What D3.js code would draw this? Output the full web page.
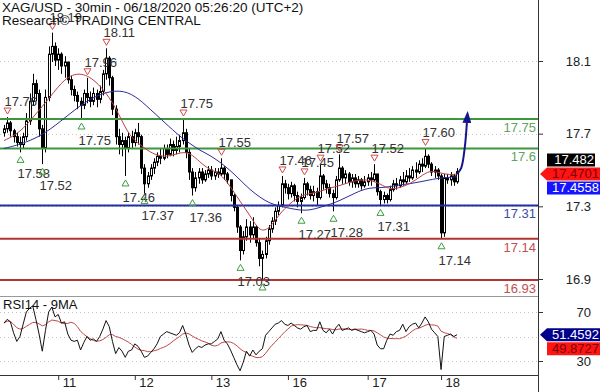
<!DOCTYPE html>
<html>
<head>
<meta charset="utf-8">
<script src="https://cdn.jsdelivr.net/npm/d3@7"></script>
<style>
body { margin: 0; background: #fff; }
text { font-family: "Liberation Sans", Arial, sans-serif; }
</style>
</head>
<body>
<svg id="chart" width="600" height="392"></svg>
<script>
// XAG/USD bars (one per hour), open = previous close
var firstOpen = 17.68;
var closes = [
  17.70, 17.73, 17.69, 17.66, 17.63, 17.62, 17.66, 17.74, 17.84, 17.93,
  17.88, 17.70, 17.60, 17.86, 18.08, 18.12, 18.05, 18.08, 18.02, 18.04,
  17.95, 17.90, 17.87, 17.84, 17.82, 17.88, 17.86, 17.84, 17.88, 17.85,
  17.89, 17.98, 18.06, 17.96, 17.80, 17.66, 17.62, 17.64, 17.60, 17.66,
  17.63, 17.68, 17.66, 17.50, 17.42, 17.46, 17.50, 17.53, 17.56, 17.55,
  17.60, 17.57, 17.62, 17.59, 17.61, 17.64, 17.68, 17.58, 17.48, 17.40,
  17.45, 17.48, 17.44, 17.47, 17.49, 17.46, 17.48, 17.47, 17.50, 17.47,
  17.44, 17.36, 17.30, 17.20, 17.08, 17.15, 17.20, 17.16, 17.20, 17.12,
  17.04, 17.06, 17.13, 17.19, 17.23, 17.28, 17.31, 17.42, 17.40, 17.37,
  17.41, 17.36, 17.33, 17.35, 17.42, 17.39, 17.36, 17.38, 17.35, 17.46,
  17.42, 17.40, 17.37, 17.35, 17.44, 17.50, 17.45, 17.47, 17.43, 17.45,
  17.42, 17.44, 17.41, 17.43, 17.45, 17.44, 17.47, 17.38, 17.34, 17.36,
  17.34, 17.39, 17.42, 17.41, 17.44, 17.43, 17.46, 17.45, 17.49, 17.48,
  17.52, 17.51, 17.56, 17.52, 17.48, 17.49, 17.46, 17.17, 17.45, 17.44,
  17.46, 17.43, 17.482
];
var highs = [
  17.72, 17.76, 17.74, 17.70, 17.68, 17.66, 17.68, 17.78, 17.88, 17.98,
  17.95, 17.90, 17.72, 17.90, 18.12, 18.19, 18.14, 18.11, 18.09, 18.07,
  18.04, 17.97, 17.92, 17.89, 17.86, 17.90, 17.96, 17.89, 17.91, 17.90,
  17.92, 18.00, 18.11, 18.07, 17.97, 17.82, 17.70, 17.68, 17.66, 17.68,
  17.69, 17.70, 17.73, 17.67, 17.52, 17.48, 17.52, 17.55, 17.58, 17.60,
  17.62, 17.62, 17.65, 17.64, 17.66, 17.67, 17.75, 17.70, 17.60, 17.50,
  17.48, 17.50, 17.50, 17.49, 17.51, 17.51, 17.50, 17.50, 17.55, 17.51,
  17.48, 17.44, 17.37, 17.31, 17.21, 17.18, 17.24, 17.23, 17.25, 17.21,
  17.14, 17.08, 17.15, 17.21, 17.25, 17.30, 17.33, 17.46, 17.44, 17.42,
  17.43, 17.42, 17.38, 17.37, 17.45, 17.43, 17.41, 17.41, 17.40, 17.52,
  17.47, 17.44, 17.42, 17.39, 17.46, 17.57, 17.51, 17.49, 17.48, 17.47,
  17.47, 17.46, 17.45, 17.46, 17.47, 17.48, 17.52, 17.47, 17.39, 17.38,
  17.37, 17.41, 17.44, 17.45, 17.46, 17.48, 17.49, 17.50, 17.51, 17.53,
  17.54, 17.55, 17.60, 17.57, 17.53, 17.51, 17.50, 17.47, 17.47, 17.47,
  17.48, 17.47, 17.50
];
var lows = [
  17.66, 17.68, 17.66, 17.63, 17.61, 17.58, 17.60, 17.64, 17.72, 17.82,
  17.84, 17.66, 17.52, 17.58, 17.84, 18.04, 18.02, 18.00, 17.98, 17.96,
  17.93, 17.87, 17.84, 17.80, 17.75, 17.80, 17.83, 17.81, 17.82, 17.81,
  17.83, 17.87, 17.95, 17.92, 17.77, 17.62, 17.57, 17.56, 17.46, 17.58,
  17.60, 17.61, 17.62, 17.47, 17.37, 17.40, 17.44, 17.47, 17.51, 17.52,
  17.54, 17.55, 17.56, 17.56, 17.57, 17.58, 17.62, 17.55, 17.44, 17.36,
  17.38, 17.42, 17.42, 17.43, 17.45, 17.44, 17.44, 17.45, 17.46, 17.44,
  17.42, 17.33, 17.28, 17.17, 17.03, 17.06, 17.13, 17.12, 17.14, 17.10,
  17.00, 16.93, 17.04, 17.11, 17.17, 17.21, 17.26, 17.30, 17.37, 17.34,
  17.35, 17.33, 17.30, 17.27, 17.34, 17.36, 17.34, 17.33, 17.31, 17.34,
  17.39, 17.37, 17.35, 17.28, 17.34, 17.43, 17.42, 17.42, 17.41, 17.40,
  17.40, 17.40, 17.39, 17.40, 17.41, 17.41, 17.43, 17.36, 17.31, 17.32,
  17.32, 17.33, 17.38, 17.39, 17.40, 17.41, 17.42, 17.43, 17.44, 17.45,
  17.47, 17.48, 17.50, 17.50, 17.46, 17.45, 17.44, 17.14, 17.15, 17.42,
  17.41, 17.41, 17.42
];
// RSI(14) read per bar
var rsi = [
  61, 64, 62, 53, 46, 50, 60, 70, 73, 75,
  64, 52, 38, 55, 70, 74, 66, 68, 61, 62,
  52, 47, 46, 47, 39, 45, 50, 47, 48, 46,
  50, 56, 63, 58, 46, 36, 41, 38, 33, 38,
  39, 44, 42, 38, 33, 34, 37, 40, 44, 50,
  52, 54, 53, 52, 51, 53, 59, 52, 43, 37,
  40, 42, 41, 43, 44, 44, 46, 48, 54, 47,
  44, 39, 33, 27, 22, 29, 38, 34, 39, 35,
  38, 40, 51, 54, 57, 60, 61, 63, 60, 59,
  61, 59, 57, 56, 58, 59, 54, 55, 55, 62,
  55, 53, 56, 52, 57, 60, 55, 56, 57, 55,
  56, 55, 54, 53, 54, 55, 52, 43, 40, 40,
  47, 52, 51, 54, 55, 60, 54, 58, 60, 61,
  57, 61, 66, 62, 56, 53, 50, 23, 50, 51,
  52, 50, 51.46
];
// moving averages: [bar, price]
var redMA = [[0,17.64],[5,17.68],[9.7,17.77],[14.4,17.86],[19.1,17.96],[23.8,17.99],[28.5,17.95],
  [33.2,17.86],[36.4,17.76],[39.5,17.66],[42.6,17.62],[45.8,17.58],[48.9,17.56],[52,17.56],
  [55.2,17.58],[58.3,17.58],[61.4,17.53],[64.6,17.49],[67.7,17.475],[70.8,17.41],[74,17.33],
  [77.1,17.26],[80.3,17.17],[83.4,17.195],[86.5,17.27],[89.7,17.32],[92.8,17.36],[95.9,17.37],
  [99.1,17.38],[102.2,17.40],[105.3,17.41],[108.5,17.43],[111.6,17.44],[114.7,17.44],
  [117.9,17.42],[121,17.39],[124.1,17.40],[127.3,17.42],[130.4,17.455],[133.5,17.49],
  [136.7,17.475],[139.8,17.465],[142,17.4701]];
var blueMA = [[0,17.60],[5,17.62],[11.3,17.66],[17.6,17.735],[23.8,17.82],[30.1,17.88],[36.4,17.90],
  [41.1,17.87],[45.8,17.80],[50.5,17.73],[55.2,17.66],[58.3,17.625],[61.4,17.59],[64.6,17.565],
  [67.7,17.53],[70.8,17.49],[74,17.44],[77.1,17.39],[80.3,17.35],[83.4,17.32],[86.5,17.305],
  [89.7,17.295],[92.8,17.285],[95.9,17.285],[99.1,17.30],[102.2,17.315],[105.3,17.335],
  [108.5,17.36],[111.6,17.385],[114.7,17.40],[117.9,17.40],[121,17.405],[124.1,17.415],
  [127.3,17.42],[130.4,17.43],[133.5,17.44],[136.7,17.45],[142,17.4558]];
var forecast = [[142,17.47],[143.3,17.50],[144.4,17.60],[145.1,17.73]];

var highMarks = [1, 15, 26, 32, 56, 68, 87, 94, 99, 105, 116, 132];
var lowMarks = [5, 12, 24, 38, 44, 59, 74, 81, 93, 103, 118, 137];

var levelValues = [17.75, 17.6, 17.31, 17.14, 16.93];
var levelLabels = ["17.75", "17.6", "17.31", "17.14", "16.93"];
var priceTicks = [16.9, 17.3, 17.7, 18.1];
var rsiTicks = [30, 70];
var rsiGrid = [30, 50, 70];
var dayTicks = [17, 41, 65, 89, 114, 137];
var dayLabels = ["11", "12", "13", "16", "17", "18"];
var lastClose = 17.482, lastRed = 17.4701, lastBlue = 17.4558;
var lastRsi = 51.4592, lastRsiMA = 49.8727;

var svg = d3.select("#chart");
var n = closes.length;
var x = d3.scaleLinear().domain([0, n - 1]).range([4, 457]);
var y = d3.scaleLinear().domain([16.93, 17.75]).range([280, 119]);
var yTicks = d3.scaleLinear().domain([16.9, 18.1]).range([279, 61]);
var yR = d3.scaleLinear().domain([30, 70]).range([361, 312]);

var bars = closes.map(function(c, i) {
  var o = i === 0 ? firstOpen : closes[i - 1];
  return { i: i, o: o, c: c, h: Math.max(highs[i], o, c), l: Math.min(lows[i], o, c) };
});
var rsiMA = rsi.map(function(v, i) {
  return d3.mean(rsi.slice(Math.max(0, i - 8), i + 1));
});

var defs = svg.append("defs");
defs.append("clipPath").attr("id", "clipP").append("rect").attr("x", 0).attr("y", 0).attr("width", 538).attr("height", 296);
defs.append("clipPath").attr("id", "clipR").append("rect").attr("x", 0).attr("y", 297).attr("width", 538).attr("height", 78);
defs.append("marker").attr("id", "head").attr("viewBox", "0 0 12 9").attr("refX", 0).attr("refY", 4.5)
  .attr("markerWidth", 6).attr("markerHeight", 4.5).attr("orient", "auto")
  .append("path").attr("d", "M0,0L12,4.5L0,9z").attr("fill", "#16168c");

var pricePanel = svg.append("g").attr("clip-path", "url(#clipP)");
var rsiPanel = svg.append("g").attr("clip-path", "url(#clipR)");

// grid
pricePanel.selectAll(".grid").data(priceTicks).enter().append("line")
  .attr("x1", 0).attr("x2", 538)
  .attr("y1", function(d) { return Math.round(yTicks(d)) + 0.5; })
  .attr("y2", function(d) { return Math.round(yTicks(d)) + 0.5; })
  .attr("stroke", "#c4c4c4").attr("stroke-dasharray", "1,3");
rsiPanel.selectAll(".grid").data(rsiGrid).enter().append("line")
  .attr("x1", 0).attr("x2", 538)
  .attr("y1", function(d) { return Math.round(yR(d)) + 0.5; })
  .attr("y2", function(d) { return Math.round(yR(d)) + 0.5; })
  .attr("stroke", "#c4c4c4").attr("stroke-dasharray", "1,3");

// candles
var px = function(i) { return Math.round(x(i)); };
var candle = pricePanel.selectAll(".bar").data(bars).enter().append("g");
candle.append("line")
  .attr("x1", function(d) { return px(d.i) + 0.5; })
  .attr("x2", function(d) { return px(d.i) + 0.5; })
  .attr("y1", function(d) { return y(d.h); })
  .attr("y2", function(d) { return y(d.l); })
  .attr("stroke", "#000").attr("stroke-width", 1);
candle.append("rect")
  .attr("x", function(d) { return px(d.i) - 0.5; })
  .attr("width", 2)
  .attr("y", function(d) { return y(Math.max(d.o, d.c)); })
  .attr("height", function(d) { return Math.max(0.5, Math.abs(y(d.o) - y(d.c))); })
  .attr("fill", function(d) { return d.c >= d.o ? "#fff" : "#000"; })
  .attr("stroke", "#000").attr("stroke-width", 1);

// support / resistance levels
var levelColor = ["#3c963c", "#3c963c", "#1f2ea0", "#b23434", "#b23434"];
var labelColor = ["#62a462", "#62a462", "#3e4aa4", "#c05050", "#c05050"];
pricePanel.selectAll(".lvl").data(levelValues).enter().append("line")
  .attr("x1", 0).attr("x2", 538)
  .attr("y1", function(d) { return y(d); }).attr("y2", function(d) { return y(d); })
  .attr("stroke", function(d, k) { return levelColor[k]; }).attr("stroke-width", 2);
pricePanel.selectAll(".lvlText").data(levelValues).enter().append("text")
  .attr("x", 536).attr("y", function(d) { return y(d) + 13; })
  .attr("text-anchor", "end").attr("font-size", 13)
  .attr("fill", function(d, k) { return labelColor[k]; })
  .text(function(d, k) { return levelLabels[k]; });

// moving averages
var maLine = d3.line().x(function(d) { return x(d[0]); }).y(function(d) { return y(d[1]); }).curve(d3.curveBasis);
pricePanel.append("path").attr("d", maLine(blueMA)).attr("fill", "none").attr("stroke", "#2b2b9c").attr("stroke-width", 1);
pricePanel.append("path").attr("d", maLine(redMA)).attr("fill", "none").attr("stroke", "#b84040").attr("stroke-width", 1);

// swing markers
var fmt = d3.format(".2f");
highMarks.forEach(function(i) {
  var cx = px(i) + 0.5, cy = y(bars[i].h) - 6;
  pricePanel.append("path")
    .attr("d", "M" + (cx - 3.5) + "," + (cy - 3) + "L" + (cx + 3.5) + "," + (cy - 3) + "L" + cx + "," + (cy + 3) + "Z")
    .attr("fill", "none").attr("stroke", "#d04a4a");
  pricePanel.append("text").attr("x", Math.max(2, cx - 3)).attr("y", y(bars[i].h) - 11)
    .attr("font-size", 13).attr("fill", "#333").text(fmt(bars[i].h));
});
lowMarks.forEach(function(i) {
  var cx = px(i) + 0.5, cy = y(bars[i].l) + 7;
  pricePanel.append("path")
    .attr("d", "M" + (cx - 3.5) + "," + (cy + 3) + "L" + (cx + 3.5) + "," + (cy + 3) + "L" + cx + "," + (cy - 3) + "Z")
    .attr("fill", "none").attr("stroke", "#3f9c3f");
  pricePanel.append("text").attr("x", Math.max(2, cx - 3)).attr("y", y(bars[i].l) + 26)
    .attr("font-size", 13).attr("fill", "#333").text(fmt(bars[i].l));
});

// forecast arrow
pricePanel.append("path")
  .attr("d", d3.line().x(function(d) { return x(d[0]); }).y(function(d) { return y(d[1]); }).curve(d3.curveCatmullRom)(forecast))
  .attr("fill", "none").attr("stroke", "#16168c").attr("stroke-width", 2).attr("marker-end", "url(#head)");

// RSI
var rsiLine = d3.line().x(function(d, i) { return x(i); }).y(function(d) { return yR(d); });
rsiPanel.append("path").attr("d", rsiLine(rsiMA)).attr("fill", "none").attr("stroke", "#c04848").attr("stroke-width", 1);
rsiPanel.append("path").attr("d", rsiLine(rsi)).attr("fill", "none").attr("stroke", "#111").attr("stroke-width", 1);

// frame
svg.append("line").attr("x1", 0).attr("x2", 538).attr("y1", 296.5).attr("y2", 296.5).attr("stroke", "#999");
svg.append("line").attr("x1", 0).attr("x2", 538).attr("y1", 375.5).attr("y2", 375.5).attr("stroke", "#333");
svg.append("line").attr("x1", 538.5).attr("x2", 538.5).attr("y1", 0).attr("y2", 392).attr("stroke", "#333");

// axes
var gy = svg.append("g").attr("transform", "translate(538,0)")
  .call(d3.axisRight(yTicks).tickValues(priceTicks).tickSize(5).tickFormat(d3.format(".1f")));
var gr = svg.append("g").attr("transform", "translate(538,0)")
  .call(d3.axisRight(yR).tickValues(rsiTicks).tickSize(5).tickFormat(d3.format("d")));
[gy, gr].forEach(function(g) {
  g.select(".domain").remove();
  g.selectAll("line").attr("stroke", "#333");
  g.selectAll("text").attr("x", 53).attr("text-anchor", "end").attr("font-size", 13).attr("fill", "#222")
    .attr("font-family", "Liberation Sans, Arial, sans-serif");
});
var gx = svg.append("g").attr("transform", "translate(0,375)")
  .call(d3.axisBottom(x).tickValues(dayTicks).tickSize(5).tickFormat(function(d, k) { return dayLabels[k]; }));
gx.select(".domain").remove();
gx.selectAll("line").attr("stroke", "#333");
gx.selectAll("text").attr("x", 4).attr("y", 3).attr("text-anchor", "start").attr("font-size", 13).attr("fill", "#222")
  .attr("font-family", "Liberation Sans, Arial, sans-serif");

// last value flags
function flag(cy, value, bg, fg, arrow, x0, x1) {
  var h = 6.5;
  var d = arrow
    ? "M540," + cy + "L547," + (cy - h) + "L" + x1 + "," + (cy - h) + "L" + x1 + "," + (cy + h) + "L547," + (cy + h) + "Z"
    : "M" + x0 + "," + (cy - h) + "L" + x1 + "," + (cy - h) + "L" + x1 + "," + (cy + h) + "L" + x0 + "," + (cy + h) + "Z";
  svg.append("path").attr("d", d).attr("fill", bg);
  svg.append("text").attr("x", x1 - 1).attr("y", cy + 4.5).attr("text-anchor", "end")
    .attr("font-size", 13).attr("fill", fg).text(value);
}
var cyRed = y(lastRed);
flag(cyRed - 14, lastClose.toFixed(3), "#000", "#fff", false, 547, 595);
flag(cyRed, lastRed.toFixed(4), "#ff1414", "#7a0000", true, 547, 600);
flag(cyRed + 14, lastBlue.toFixed(4), "#1414ff", "#fff", false, 547, 600);
var cyRsi = yR(lastRsi);
flag(cyRsi, lastRsi.toFixed(4), "#00008c", "#fff", true, 547, 600);
flag(cyRsi + 14, lastRsiMA.toFixed(4), "#ff1414", "#7a0000", false, 547, 600);

// titles
svg.append("text").attr("x", 2).attr("y", 12).attr("font-size", 13.5).attr("fill", "#111")
  .text("XAG/USD - 30min - 06/18/2020 05:26:20 (UTC+2)");
svg.append("text").attr("x", 2).attr("y", 25).attr("font-size", 13.5).attr("fill", "#111")
  .text("Research\u00A9 TRADING CENTRAL");
svg.append("text").attr("x", 3).attr("y", 309).attr("font-size", 13).attr("fill", "#111")
  .text("RSI14 - 9MA");
</script>
</body>
</html>
